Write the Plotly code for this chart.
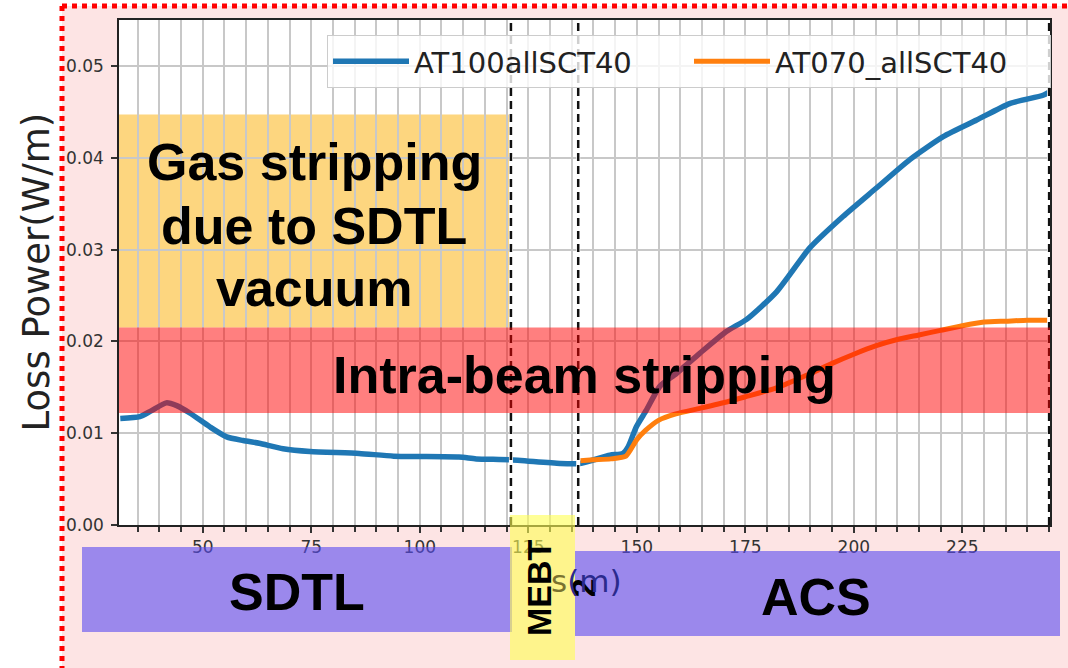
import plotly.graph_objects as go

# ---- data ----
s_at100 = [31, 35.5, 38, 41.6, 44, 47, 51.6, 55.5, 59.3, 63, 68.5, 74.7, 86, 94, 109, 113,
           120.7, 132.3, 136.9, 143.8, 146.8, 148, 149.9, 152.2, 155.3, 159.1, 164.5,
           170.7, 175.3, 182.2, 189.9, 197.5, 205.2, 212.9, 220.6, 228.3, 235.9, 243.6, 245.2]
p_at100 = [0.0116, 0.0118, 0.0124, 0.0133, 0.0130, 0.0122, 0.0107, 0.0096, 0.0092, 0.0089,
           0.0083, 0.0080, 0.0078, 0.0075, 0.0074, 0.0072, 0.0071, 0.0067, 0.0067, 0.0076,
           0.0078, 0.0085, 0.0107, 0.0125, 0.0151, 0.0165, 0.0187, 0.0211, 0.0224, 0.0254,
           0.0302, 0.0336, 0.0367, 0.0398, 0.0423, 0.0441, 0.0459, 0.0468, 0.0472]

s_at070 = [137, 140, 144, 147.5, 150, 152, 155, 159, 164.5, 170.7, 175.3, 182, 190, 195,
           200, 205, 210, 215, 220, 225, 230, 235, 240, 245]
p_at070 = [0.0070, 0.0071, 0.0072, 0.0075, 0.0093, 0.0103, 0.0114, 0.0121, 0.0127, 0.0134,
           0.0140, 0.0149, 0.0165, 0.0176, 0.0186, 0.0195, 0.0202, 0.0207, 0.0212, 0.0217,
           0.0221, 0.0222, 0.0223, 0.0223]

series_names = ["AT100allSCT40", "AT070_allSCT40"]
x_range = [30.7, 245.2]
y_range = [0, 0.055]
section_edges = [121, 136.5, 245]           # dashed vertical lines (m)
gas_band = [0.0215, 0.0447]                 # W/m
ibs_band = [0.0122, 0.0215]                 # W/m
y_ticks = [0.00, 0.01, 0.02, 0.03, 0.04, 0.05]
y_tick_labels = ["0.00", "0.01", "0.02", "0.03", "0.04", "0.05"]
gas_text_lines = ["Gas stripping", "due to SDTL", "vacuum"]

W, H = 1068, 668
ML, MR, MT, MB = 119, 18, 20, 143
PW, PH = W - ML - MR, H - MT - MB


def px(x):
    return (x - ML) / PW


def py(y):
    return (H - MB - y) / PH


fig = go.Figure()
fig.add_trace(go.Scatter(x=s_at100, y=p_at100, mode="lines", name=series_names[0],
                         line=dict(color="#1f77b4", width=5.5, shape="spline", smoothing=0.6)))
fig.add_trace(go.Scatter(x=s_at070, y=p_at070, mode="lines", name=series_names[1],
                         line=dict(color="#ff7f0e", width=5, shape="spline", smoothing=0.6)))

shapes = []
# page background framing: white outside, pink inside, red dotted border
shapes.append(dict(type="rect", xref="paper", yref="paper", x0=-0.3, x1=px(62), y0=-0.5, y1=1.2,
                   fillcolor="white", line=dict(width=0), layer="below"))
shapes.append(dict(type="rect", xref="paper", yref="paper", x0=-0.3, x1=1.2, y0=py(6), y1=1.2,
                   fillcolor="white", line=dict(width=0), layer="below"))
shapes.append(dict(type="line", xref="paper", yref="paper", x0=px(62), x1=px(62), y0=py(6), y1=-0.5,
                   line=dict(color="#ff0000", width=5, dash="dot"), layer="below"))
shapes.append(dict(type="line", xref="paper", yref="paper", x0=px(62), x1=1.2, y0=py(6), y1=py(6),
                   line=dict(color="#ff0000", width=5, dash="dot"), layer="below"))
# gas-stripping box
shapes.append(dict(type="rect", xref="paper", yref="y", x0=0,
                   x1=(section_edges[0] - x_range[0]) / (x_range[1] - x_range[0]),
                   y0=gas_band[0], y1=gas_band[1], fillcolor="#fdd67f", line=dict(width=0), layer="below"))
# dashed section lines
for xe in section_edges:
    shapes.append(dict(type="line", xref="x", yref="paper", x0=xe, x1=xe, y0=0, y1=1,
                       line=dict(color="white", width=4), layer="above"))
    shapes.append(dict(type="line", xref="x", yref="paper", x0=xe, x1=xe, y0=0, y1=1,
                       line=dict(color="#111111", width=2.5, dash="8px,5px"), layer="above"))
# intra-beam stripping band
shapes.append(dict(type="rect", xref="paper", yref="y", x0=0, x1=1, y0=ibs_band[0], y1=ibs_band[1],
                   fillcolor="rgba(255,0,0,0.5)", line=dict(width=0), layer="above"))
# section bars under the axis
shapes.append(dict(type="rect", xref="paper", yref="paper", x0=px(82), x1=px(512), y0=py(632), y1=py(547),
                   fillcolor="rgba(90,75,241,0.6)", line=dict(width=0), layer="above"))
shapes.append(dict(type="rect", xref="paper", yref="paper", x0=px(575), x1=px(1060), y0=py(636), y1=py(551),
                   fillcolor="rgba(90,75,241,0.6)", line=dict(width=0), layer="above"))
shapes.append(dict(type="rect", xref="paper", yref="paper", x0=px(510), x1=px(575), y0=py(660), y1=py(515),
                   fillcolor="rgba(255,255,81,0.6)", line=dict(width=0), layer="above"))

bold = "Liberation Sans, Arial, sans-serif"
annotations = []
for line_text, ly in zip(gas_text_lines, [162, 226, 288]):
    annotations.append(dict(text="<b>%s</b>" % line_text, x=px(314), y=py(ly),
                            font=dict(family=bold, size=52, color="black")))
annotations += [
    dict(text="<b>Intra-beam stripping</b>", x=px(584), y=py(375),
         font=dict(family=bold, size=52, color="black")),
    dict(text="<b>SDTL</b>", x=px(297), y=py(592), font=dict(family=bold, size=52, color="black")),
    dict(text="<b>ACS</b>", x=px(816), y=py(597), font=dict(family=bold, size=52, color="black")),
    dict(text="<b>MEBT<br>2</b>", x=px(561), y=py(588), textangle=-90,
         font=dict(family=bold, size=34, color="black")),
    dict(text="<span style='color:#7a7230'>s</span><span style='color:#2b2a8c'>(m)</span>",
         x=px(586), y=py(581), font=dict(family="DejaVu Sans", size=31)),
    dict(text="Loss Power(W/m)", x=px(36), y=0.5, textangle=-90,
         font=dict(family="DejaVu Sans", size=37, color="#222222")),
]
for a in annotations:
    a.update(xref="paper", yref="paper", showarrow=False, xanchor="center", yanchor="middle")

fig.update_layout(
    width=W, height=H,
    margin=dict(l=ML, r=MR, t=MT, b=MB, autoexpand=False),
    paper_bgcolor="#fde4e4",
    plot_bgcolor="white",
    font=dict(family="DejaVu Sans", color="#333333"),
    shapes=shapes,
    annotations=annotations,
    showlegend=True,
    legend=dict(orientation="h", x=px(327), y=py(35), xanchor="left", yanchor="top",
                bgcolor="rgba(255,255,255,0.8)", bordercolor="#cccccc", borderwidth=1,
                font=dict(family="DejaVu Sans", size=29, color="#222222"),
                itemwidth=76, entrywidth=270),
)
fig.update_xaxes(range=x_range, dtick=25, tick0=0, ticks="outside", ticklen=6, tickwidth=1.5,
                 tickcolor="#333", showgrid=True, gridcolor="#c8c8c8", gridwidth=1.5,
                 showline=True, linecolor="#222", linewidth=1.5, mirror=True, zeroline=False,
                 tickfont=dict(size=17, color="#333"), ticklabelstandoff=0,
                 minor=dict(dtick=5, tick0=0, ticks="outside", ticklen=5, tickcolor="#333",
                            showgrid=True, gridcolor="#c8c8c8", gridwidth=1.5))
fig.update_yaxes(range=y_range, tickvals=y_ticks, ticktext=y_tick_labels, ticks="outside",
                 ticklen=6, tickwidth=1.5, tickcolor="#333", showgrid=True, gridcolor="#c8c8c8",
                 gridwidth=1.5, showline=True, linecolor="#222", linewidth=1.5, mirror=True,
                 zeroline=False, tickfont=dict(size=17, color="#333"), ticklabelstandoff=4)

fig.write_html("out.html")
